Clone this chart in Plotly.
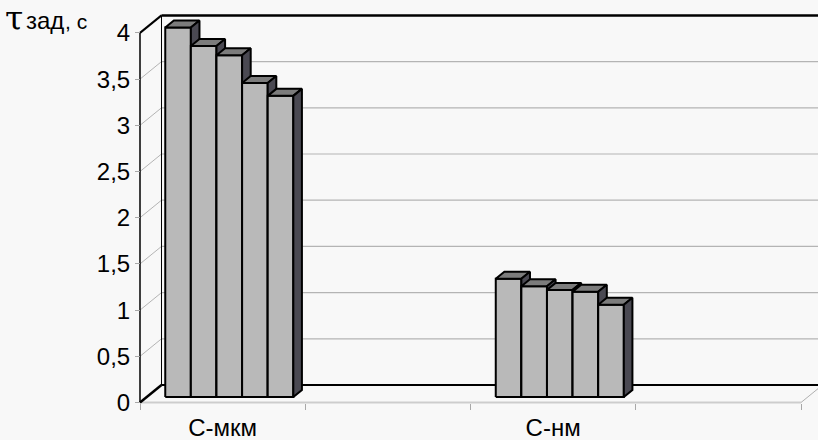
import plotly.graph_objects as go

# ---------------- data ----------------
categories = ["С-мкм", "", "С-нм", ""]
series_1 = [4.00, None, 1.28, None]
series_2 = [3.80, None, 1.20, None]
series_3 = [3.70, None, 1.16, None]
series_4 = [3.40, None, 1.14, None]
series_5 = [3.26, None, 1.00, None]
all_series = [series_1, series_2, series_3, series_4, series_5]

y_tick_vals = [0, 0.5, 1, 1.5, 2, 2.5, 3, 3.5, 4]
y_tick_text = ["0", "0,5", "1", "1,5", "2", "2,5", "3", "3,5", "4"]
y_title_parts = ["τ", "зад", ", с"]

# ---------------- geometry / style ----------------
W, H = 818, 440
SX, SY = 165.25, 92.4          # px per category, px per unit
X0, Y0 = 140.0, 402.5          # pixel of front origin
XR = [-X0 / SX, (W - X0) / SX]
YR = [-(H - Y0) / SY, Y0 / SY]
DX, DY = 21.5 / SX, 17.5 / SY  # full wall depth in data units
D0, D1 = 0.31, 0.71            # bar front / back depth
GROUP = 0.775
BW = GROUP / len(all_series)
NCAT = len(categories)
YMAX = y_tick_vals[-1]

BG = "#f8f8f8"
FRONT = "#b9b9b9"
TOP = "#7c7c7c"
SIDE = "#4a4952"
GRID = "#b4b4b4"

fig = go.Figure()


def line(xs, ys, color, width):
    fig.add_trace(go.Scatter(x=xs, y=ys, mode="lines", hoverinfo="skip",
                             line=dict(color=color, width=width), showlegend=False))


def poly(xs, ys, fill):
    fig.add_trace(go.Scatter(x=xs + [xs[0]], y=ys + [ys[0]], mode="lines", fill="toself",
                             fillcolor=fill, hoverinfo="skip",
                             line=dict(color="black", width=2), showlegend=False))


# gridlines on back wall and left wall
for v in y_tick_vals[1:-1]:
    line([DX, NCAT + DX], [v + DY, v + DY], GRID, 1.2)
    line([0, DX], [v, v + DY], GRID, 1)

# walls / floor frame
line([DX, NCAT + DX], [YMAX + DY, YMAX + DY], "black", 2.5)   # back wall top
line([0, DX], [YMAX, YMAX + DY], "black", 2)                   # left wall top
line([DX, DX], [DY, YMAX + DY], "black", 1)                    # back wall left edge
line([0, NCAT], [0, 0], "#cdcdcd", 2)                          # floor front
line([NCAT, NCAT + DX], [0, DY], "#b0b0b0", 1)                 # floor right
line([DX, NCAT + DX], [DY, DY], "black", 2)                    # floor back
line([0, DX], [0, DY], "black", 2.5)                           # floor left
line([0, 0], [0, YMAX], "black", 1.5)                          # front value axis

# bars (pseudo-3D)
ex, ey = (D1 - D0) * DX, (D1 - D0) * DY
for i in range(NCAT):
    for j, s in enumerate(all_series):
        v = s[i]
        if v is None:
            continue
        xl = i + 0.5 - GROUP / 2 + j * BW + D0 * DX
        xr = xl + BW
        yb = D0 * DY
        yt = v + D0 * DY
        poly([xl, xl, xr, xr], [yb, yt, yt, yb], FRONT)
        poly([xl, xl + ex, xr + ex, xr], [yt, yt + ey, yt + ey, yt], TOP)
        poly([xr, xr, xr + ex, xr + ex], [yb, yt, yt + ey, yb + ey], SIDE)

FONT = "Liberation Sans, Arial, sans-serif"

fig.update_layout(
    width=W, height=H,
    margin=dict(l=0, r=0, t=0, b=0),
    paper_bgcolor=BG, plot_bgcolor=BG,
    template="none",
    showlegend=False,
    xaxis=dict(range=XR, showgrid=False, zeroline=False, showline=False,
               anchor="free", position=(H - Y0) / H, automargin=False,
               tickmode="array", tickvals=[i + 0.5 for i in range(NCAT)],
               ticktext=categories, ticks="", ticklabelstandoff=8,
               tickfont=dict(family=FONT, size=24, color="black"),
               minor=dict(tickmode="array", tickvals=list(range(NCAT + 1)),
                          ticks="outside", ticklen=6, tickcolor="#a8a8a8", tickwidth=1,
                          showgrid=False)),
    yaxis=dict(range=YR, showgrid=False, zeroline=False, showline=False,
               anchor="free", position=X0 / W, automargin=False,
               tickmode="array", tickvals=y_tick_vals, ticktext=y_tick_text,
               ticks="outside", ticklen=5, tickcolor="#a8a8a8", tickwidth=1,
               tickfont=dict(family=FONT, size=24, color="black")),
)

fig.add_annotation(
    xref="paper", yref="paper", x=3 / W, y=1 - 18.5 / H, xanchor="left", yanchor="middle",
    showarrow=False, text=y_title_parts[0],
    font=dict(family="DejaVu Serif, Liberation Serif, serif", size=33, color="black"),
)
fig.add_annotation(
    xref="paper", yref="paper", x=24 / W, y=1 - 35.7 / H, xanchor="left", yanchor="bottom",
    showarrow=False, text=y_title_parts[1],
    font=dict(family=FONT, size=24, color="black"),
)
fig.add_annotation(
    xref="paper", yref="paper", x=63 / W, y=1 - 34.9 / H, xanchor="left", yanchor="bottom",
    showarrow=False, text=y_title_parts[2],
    font=dict(family=FONT, size=21, color="black"),
)

fig.write_html("out.html", config={"displayModeBar": False},
               post_script="document.body.style.margin='0';document.body.style.padding='0';")
